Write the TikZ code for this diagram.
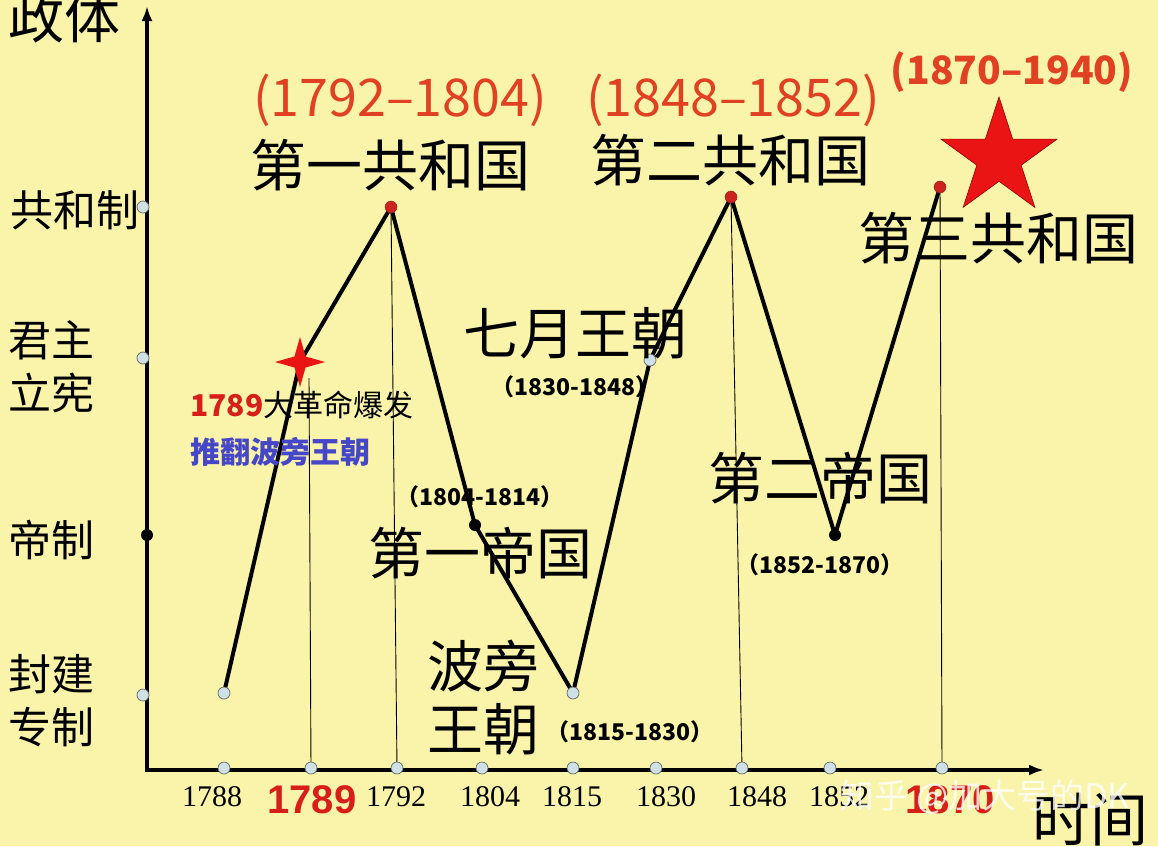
\documentclass[tikz,border=0pt]{standalone}
\usepackage{fontspec}
\setmainfont{Noto Sans CJK SC}
\newfontfamily\numfont{Liberation Serif}
\newfontfamily\arialfont{Liberation Sans}
\usepackage{tikz}
\usetikzlibrary{calc}
\usetikzlibrary{arrows.meta}
\usetikzlibrary{shapes.geometric}
\tikzset{>=latex}
\definecolor{bg}{RGB}{250,244,170}
\definecolor{datered}{RGB}{225,65,35}
\definecolor{redyr}{RGB}{215,30,25}
\definecolor{blueline}{RGB}{70,70,200}
\definecolor{dotblue}{RGB}{205,225,230}
\definecolor{dotred}{RGB}{205,35,30}
\definecolor{starred}{RGB}{235,20,20}
\tikzset{
  big/.style={font=\fontsize{56}{63}\selectfont, inner sep=0pt},
  mid/.style={font=\fontsize{43}{53}\selectfont, inner sep=0pt, align=left},
  yrs/.style={font=\bfseries\fontsize{23}{23}\selectfont, inner sep=0pt},
  redyrs/.style={font=\fontsize{52}{52}\selectfont, text=datered, inner sep=0pt},
  ticklbl/.style={font=\numfont\fontsize{30}{30}\selectfont, inner sep=0pt},
  bigyr/.style={font=\arialfont\bfseries\fontsize{40}{40}\selectfont, text=redyr, inner sep=0pt},
  dot/.style={circle, draw=black!60, fill=dotblue, inner sep=0pt, minimum size=12pt, line width=0.7pt},
  rdot/.style={circle, fill=dotred, draw=dotred!70!black, inner sep=0pt, minimum size=12pt},
  bdot/.style={circle, fill=black, inner sep=0pt, minimum size=12pt},
  curve/.style={line width=4pt, line join=round},
  vline/.style={line width=0.9pt},
}

\begin{document}
\begin{tikzpicture}[x=1pt,y=-1pt]
\fill[bg] (0,0) rectangle (1158,846);
\useasboundingbox (0,0) rectangle (1158,846);

\coordinate (o) at (147,772);
\coordinate (ytop) at (147,6);
\coordinate (xo) at (145,770);
\coordinate (xend) at (1044,770);

\coordinate (p1788) at (224,693);
\coordinate (kink) at (300,362);
\coordinate (p1792) at (391,207);
\coordinate (p1804) at (475,525);
\coordinate (p1815) at (573,693);
\coordinate (p1830) at (650,360);
\coordinate (p1848) at (731,197);
\coordinate (p1852) at (835,535);
\coordinate (p1870) at (940,187);
\coordinate (v1789) at (309,378);

% time axis ticks
\foreach \yr/\x in {1788/224,1789/311,1792/397,1804/482,1815/573,1830/656,1848/742,1852/830,1870/942}
  \coordinate (t\yr) at (\x,768);

\draw[vline] (v1789) -- (t1789);
\draw[vline] (p1792) -- (t1792);
\draw[vline] (p1848) -- (t1848);
\draw[vline] (p1870) -- (t1870);

\draw[line width=4.5pt, -{Latex[length=15pt,width=11pt]}] (o) -- (ytop);
\draw[line width=4.5pt, -{Latex[length=15pt,width=11pt]}] (xo) -- (xend);

\draw[curve] (p1788) -- (kink) -- (p1792) -- (p1804) -- (p1815) -- (p1830)
  -- (p1848) -- (p1852) -- (p1870);

\foreach \yr in {1788,1789,1792,1804,1815,1830,1848,1852,1870}
  \node[dot] (d\yr) at (t\yr) {};

\node[dot] (g1) at (143,207) {};
\node[dot] (g2) at (143,358) {};
\node[bdot] (g3) at (147,535) {};
\node[dot] (g4) at (143,695) {};

\node[dot] (a) at (p1788) {};
\node[rdot] (b) at (p1792) {};
\node[bdot] (c) at (p1804) {};
\node[dot] (d) at (p1815) {};
\node[dot] (e) at (p1830) {};
\node[rdot] (f) at (p1848) {};
\node[bdot] (g) at (p1852) {};
\node[rdot] (h) at (p1870) {};

\node[star, star points=4, star point ratio=3.2, minimum size=50pt, inner sep=0pt,
  fill=starred] (spark) at (kink) {};
\node[star, star points=5, star point ratio=2.618, minimum size=122pt, inner sep=0pt,
  fill=starred, draw=red!60!black, line width=0.6pt] (bigstar) at (999,158) {};

% vertical axis labels
\node[big] (gov) at (65,17) {政体};
\node[mid] (l1) at (75,210) {共和制};
\node[mid] (l2) at (52,367) {君主\\立宪};
\node[mid] (l3) at (52,540) {帝制};
\node[mid] (l4) at (52,701) {封建\\专制};

\node[redyrs] (r1) at (400,100) {(1792–1804)};
\node[big] (rep1) at (390,165) {第一共和国};
\node[redyrs] (r2) at (733,100) {(1848–1852)};
\node[big] (rep2) at (730,160) {第二共和国};
\node[redyrs, font=\bfseries\fontsize{39}{39}\selectfont] (r3) at (1012,72) {(1870–1940)};
\node[big] (rep3) at (998,238) {第三共和国};

\node[big] (july) at (575,333) {七月王朝};
\node[yrs] (y1) at (575,387) {（1830-1848）};

\node[anchor=west, inner sep=0pt, font=\fontsize{30}{30}\selectfont] (rev) at (190,405)
  {\textcolor{redyr}{\bfseries 1789}大革命爆发};
\node[anchor=west, inner sep=0pt, text=blueline, font=\bfseries\fontsize{30}{30}\selectfont]
  (over) at (190,452) {推翻波旁王朝};

\node[yrs] (y2) at (480,497) {（1804-1814）};
\node[big] (emp1) at (480,553) {第一帝国};
\node[big, align=center] (bour) at (483,698) {波旁\\王朝};
\node[yrs] (y3) at (630,732) {（1815-1830）};
\node[big] (emp2) at (820,478) {第二帝国};
\node[yrs] (y4) at (820,565) {（1852-1870）};

% year labels
\node[ticklbl] (n1) at (212,797) {1788};
\node[bigyr] (n2) at (312,800) {1789};
\node[ticklbl] (n3) at (396,797) {1792};
\node[ticklbl] (n4) at (490,797) {1804};
\node[ticklbl] (n5) at (572,797) {1815};
\node[ticklbl] (n6) at (666,797) {1830};
\node[ticklbl] (n7) at (757,797) {1848};
\node[ticklbl] (n8) at (839,797) {1852};
\node[bigyr] (n9) at (950,800) {1870};

\node[big, font=\fontsize{58}{58}\selectfont] (time) at (1090,820) {时间};
\node[text=white, opacity=0.8, inner sep=0pt, font=\fontsize{34}{34}\selectfont]
  (wm) at (985,797) {知乎 @加大号的DK};
\end{tikzpicture}
\end{document}
